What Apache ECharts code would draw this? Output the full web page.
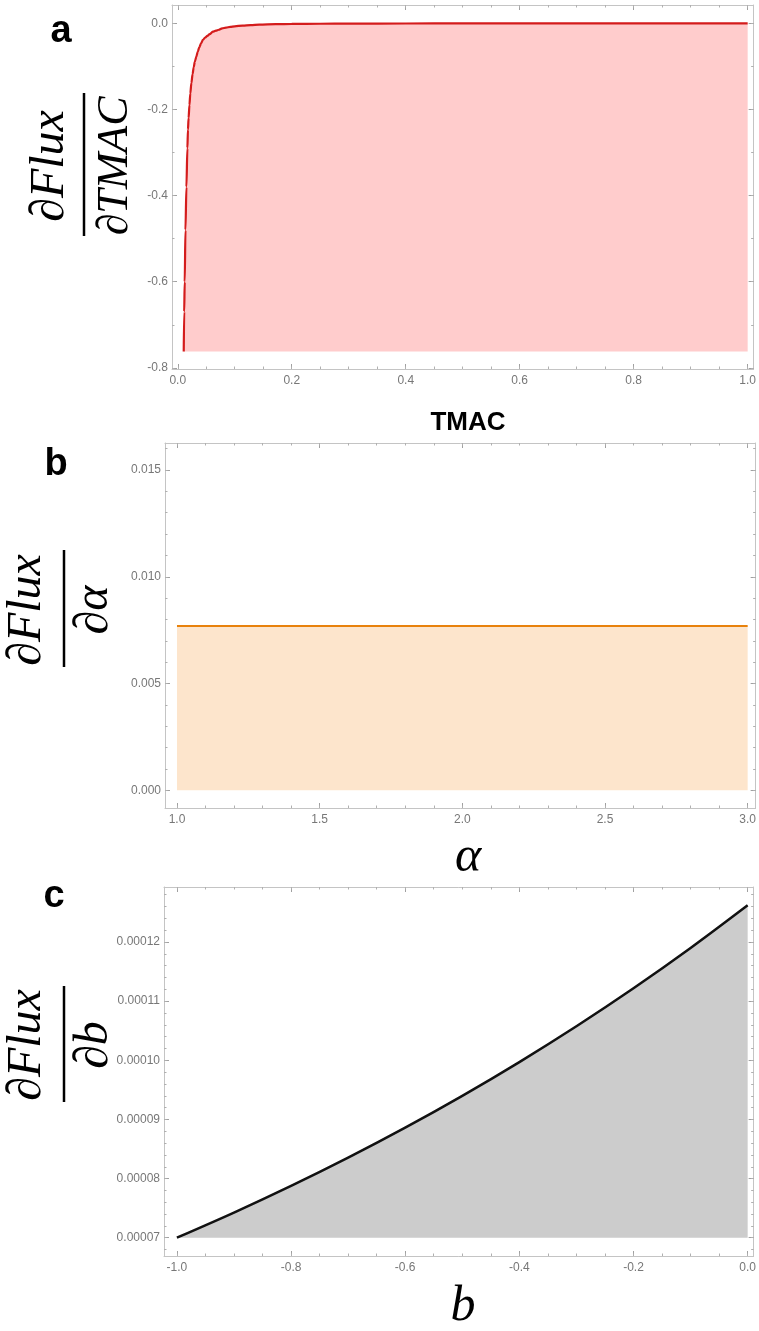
<!DOCTYPE html>
<html>
<head>
<meta charset="utf-8">
<script src="https://cdn.jsdelivr.net/npm/echarts@6/dist/echarts.min.js"></script>
<style>
html, body { margin: 0; padding: 0; background: #fff; }
#chart { width: 759px; height: 1331px; }
</style>
</head>
<body>
<div id="chart"></div>
<script>
// panel a: dFlux/dTMAC against TMAC
var tmacX = [0.0105, 0.0113, 0.0122, 0.0135, 0.0152, 0.0169, 0.0179, 0.019, 0.0205, 0.022, 0.0239, 0.026,
    0.028, 0.030, 0.0326, 0.035, 0.038, 0.041, 0.0441, 0.048, 0.052, 0.056, 0.0615, 0.067, 0.072, 0.078,
    0.0848, 0.092, 0.1, 0.1138, 0.128, 0.143, 0.172, 0.2, 0.25, 0.3, 0.4, 0.5, 0.6, 0.7, 0.8, 0.9, 1.0];
var tmacFlux = [-0.762, -0.67, -0.60, -0.48, -0.38, -0.29, -0.247, -0.22, -0.19, -0.163, -0.139, -0.118,
    -0.102, -0.089, -0.0774, -0.066, -0.055, -0.046, -0.0387, -0.033, -0.029, -0.025, -0.0195, -0.017, -0.015, -0.0118,
    -0.010, -0.0085, -0.007, -0.0052, -0.004, -0.003, -0.002, -0.0014, -0.001, -0.0007, -0.0004, -0.0003,
    -0.0002, -0.00015, -0.0001, -0.0001, -0.0001];

// panel b: dFlux/dalpha against alpha
var alphaX = [1.0, 3.0];
var alphaFlux = [0.0077, 0.0077];

// panel c: dFlux/db against b
var bX = [-1.0, -0.9, -0.8, -0.7, -0.6, -0.5, -0.4, -0.3, -0.2, -0.1, 0.0];
var bFlux = [0.0000700, 0.00007425, 0.00007876, 0.00008354, 0.00008861, 0.00009399, 0.0000997, 0.00010575,
    0.00011217, 0.00011898, 0.0001262];

// tick labels
var aXTicks = [0.0, 0.2, 0.4, 0.6, 0.8, 1.0];
var aYTicks = [0.0, -0.2, -0.4, -0.6, -0.8];
var bXTicks = [1.0, 1.5, 2.0, 2.5, 3.0];
var bYTicks = [0.000, 0.005, 0.010, 0.015];
var cXTicks = [-1.0, -0.8, -0.6, -0.4, -0.2, 0.0];
var cYTicks = [0.00007, 0.00008, 0.00009, 0.00010, 0.00011, 0.00012];

function zip(xs, ys) {
    return xs.map(function (x, i) { return [x, ys[i]]; });
}

function steps(from, to, step) { // minor tick positions
    var out = [];
    var n = Math.round((to - from) / step);
    for (var i = 0; i <= n; i++) {
        out.push(+(from + i * step).toPrecision(10));
    }
    return out;
}

var frameColor = '#c4c4c4';
var labelColor = '#777';

// Mathematica style frame: ticks inside on all four sides, labels on bottom / left only
function frameAxes(grid, min, max, major, minor, dec, sides) {
    var list = [];
    sides.forEach(function (side, s) {
        list.push({
            type: 'value', gridIndex: grid, position: side, min: min, max: max,
            axisLine: { show: true, onZero: false, lineStyle: { color: frameColor, width: 1 } },
            axisTick: { show: true, inside: true, length: 5, customValues: major, lineStyle: { color: '#a0a0a0' } },
            axisLabel: {
                show: s === 0, customValues: major, margin: side === 'bottom' ? 6 : 4,
                color: labelColor, fontSize: 12, fontFamily: 'Liberation Sans',
                formatter: function (v) { return Number(v).toFixed(dec); }
            },
            splitLine: { show: false }
        });
        list.push({
            type: 'value', gridIndex: grid, position: side, min: min, max: max,
            axisLine: { show: false, onZero: false },
            axisTick: { show: true, inside: true, length: 2.5, customValues: minor, lineStyle: { color: '#b0b0b0' } },
            axisLabel: { show: false },
            splitLine: { show: false }
        });
    });
    return list;
}

var xAxes = [].concat(
    frameAxes(0, -0.0101, 1.0105, aXTicks, steps(0, 1, 0.05), 1, ['bottom', 'top']),
    frameAxes(1, 0.958, 3.028, bXTicks, steps(1, 3, 0.1), 1, ['bottom', 'top']),
    frameAxes(2, -1.0226, 0.0105, cXTicks, steps(-1, 0, 0.05), 1, ['bottom', 'top'])
);
var yAxes = [].concat(
    frameAxes(0, -0.8026, 0.0425, aYTicks, steps(-0.8, 0, 0.1), 1, ['left', 'right']),
    frameAxes(1, -0.000829, 0.016265, bYTicks, steps(0, 0.016, 0.001), 3, ['left', 'right']),
    frameAxes(2, 0.00006691, 0.0001293, cYTicks, steps(0.000068, 0.000128, 0.000002), 5, ['left', 'right'])
);

function rotText(text, x, y, size) {
    return { type: 'text', x: x, y: y, rotation: Math.PI / 2,
        style: { text: text, font: 'italic ' + size + 'px "Liberation Serif"', fill: '#000',
            textAlign: 'center', textVerticalAlign: 'middle', verticalAlign: 'middle' } };
}

function fraction(numX, denX, denSize, barX, cy, barTop, barBottom, num, den) {
    return [
        rotText(num, numX, cy, 48),
        rotText(den, denX, cy, denSize),
        { type: 'line', shape: { x1: barX, y1: barTop, x2: barX, y2: barBottom }, style: { stroke: '#000', lineWidth: 2.5 } }
    ];
}

function label(text, x, y, font) {
    return { type: 'text', x: x, y: y,
        style: { text: text, font: font, fill: '#000', textAlign: 'center', textVerticalAlign: 'middle', verticalAlign: 'middle' } };
}

var chart = echarts.init(document.getElementById('chart'));

var option = {
    animation: false,
    backgroundColor: '#fff',
    grid: [
        { left: 172, top: 5, width: 585, height: 364 },
        { left: 165, top: 443, width: 592, height: 365 },
        { left: 164, top: 887, width: 593, height: 369 }
    ],
    xAxis: xAxes,
    yAxis: yAxes,
    series: [{
        type: 'line', xAxisIndex: 0, yAxisIndex: 0,
        data: zip(tmacX, tmacFlux),
        showSymbol: false, smooth: 0.3, smoothMonotone: 'x',
        lineStyle: { color: '#d41c1c', width: 2.2 },
        areaStyle: { color: '#ffcccc', opacity: 1, origin: -0.762 }
    }, {
        type: 'line', xAxisIndex: 4, yAxisIndex: 4,
        data: zip(alphaX, alphaFlux),
        showSymbol: false,
        lineStyle: { color: '#e8820c', width: 2 },
        areaStyle: { color: '#fde5cc', opacity: 1, origin: 0 }
    }, {
        type: 'line', xAxisIndex: 8, yAxisIndex: 8,
        data: zip(bX, bFlux),
        showSymbol: false, smooth: 0.3,
        lineStyle: { color: '#111', width: 2.5 },
        areaStyle: { color: '#cccccc', opacity: 1, origin: 0.00007 }
    }],
    graphic: [].concat(
        fraction(50, 115, 44, 84, 166, 93, 236, '\u2202Flux', '\u2202TMAC'),
        fraction(27, 94, 48, 64, 610, 550, 667, '\u2202Flux', '\u2202\u03b1'),
        fraction(27, 94, 48, 64, 1045, 986, 1102, '\u2202Flux', '\u2202b'),
        [
            label('a', 61, 32, 'bold 38px "Liberation Sans"'),
            label('b', 56, 465, 'bold 38px "Liberation Sans"'),
            label('c', 54, 897, 'bold 38px "Liberation Sans"'),
            label('TMAC', 468, 423, 'bold 26px "Liberation Sans Narrow", "Liberation Sans"'),
            label('\u03b1', 468, 858, 'italic 50px "Liberation Serif"'),
            label('b', 463, 1307, 'italic 50px "Liberation Serif"')
        ]
    )
};

chart.setOption(option);
</script>
</body>
</html>
